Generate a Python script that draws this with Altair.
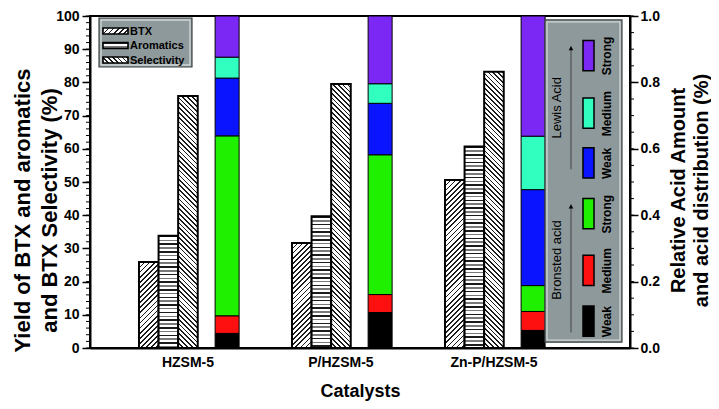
import math
import altair as alt
import pandas as pd

# ---------------- data ----------------
catalysts = ["HZSM-5", "P/HZSM-5", "Zn-P/HZSM-5"]
series = ["BTX", "Aromatics", "Selectivity"]
btx = [25.9, 31.6, 50.6]
aromatics = [33.8, 39.7, 60.7]
selectivity = [75.9, 79.5, 83.2]

acid_keys = ["Bronsted Weak", "Bronsted Medium", "Bronsted Strong",
             "Lewis Weak", "Lewis Medium", "Lewis Strong"]
acid_labels = ["Weak", "Medium", "Strong", "Weak", "Medium", "Strong"]
acid_groups = ["Bronsted acid", "Lewis Acid"]
acid_colors = ["#000000", "#ff1010", "#1ef000", "#0a14ff", "#30ffc0", "#7c28f5"]
acid_hzsm5 = [0.044, 0.053, 0.542, 0.174, 0.063, 0.124]
acid_phzsm5 = [0.107, 0.054, 0.421, 0.155, 0.059, 0.204]
acid_znphzsm5 = [0.053, 0.057, 0.078, 0.289, 0.161, 0.362]

left_title = ["Yield of BTX and aromatics", "and BTX Selectivity (%)"]
right_title = ["Relative Acid Amount", "and acid distribution (%)"]
x_title = "Catalysts"

# ---------------- tables ----------------
rows = []
for ci, c in enumerate(catalysts):
    for s, vals in zip(series, [btx, aromatics, selectivity]):
        rows.append({"catalyst": c, "slot": s, "value": vals[ci]})
df = pd.DataFrame(rows)

arows = []
for c, fr in zip(catalysts, [acid_hzsm5, acid_phzsm5, acid_znphzsm5]):
    for i, (k, f) in enumerate(zip(acid_keys, fr)):
        arows.append({"catalyst": c, "slot": "Acid", "acid": k, "frac": f, "idx": i})
adf = pd.DataFrame(arows)

# ---------------- layout / style ----------------
W, H = 540, 332
K = H / 340.0
FONT = "Liberation Sans"
slots = ["BTX", "Aromatics", "Selectivity", "_gap", "Acid"]
PAD_IN, PAD_OUT, ALIGN = 0.36, 0.4447, 0.36
step = W / (len(catalysts) - PAD_IN + 2 * PAD_OUT)
BAR_W = step * (1 - PAD_IN) / len(slots)
PX = H / 100.0

INK = "#1c1c1c"
GREY_INK = "#7a7a7a"
PAPER = "#ffffff"


def stripe_stops(n, frac, ink, paper, ink2=None):
    stops = []
    k = 0
    while k < n:
        a = k / n
        b = min((k + frac) / n, 1.0)
        c = min((k + 1) / n, 1.0)
        col = ink if (ink2 is None or k % 2 == 0) else ink2
        stops += [(a, col), (b, col), (b, paper), (c, paper)]
        k += 1
    return [{"offset": round(o, 4), "color": col} for o, col in stops]


def hatch(kind, w, h):
    if kind == "Aromatics":
        period = 3.8
        return {"gradient": "linear", "x1": 0, "y1": 0, "x2": 0, "y2": 1,
                "stops": stripe_stops(h / period, 0.4, INK, PAPER, GREY_INK)}
    period = 3.6 if kind == "BTX" else 3.4
    s = (w + h) / (w * w + h * h)
    n = (w + h) / math.sqrt(2) / period
    stops = stripe_stops(n, 0.34, INK, PAPER)
    if kind == "BTX":
        return {"gradient": "linear", "x1": 0, "y1": 0, "x2": s * w, "y2": s * h, "stops": stops}
    return {"gradient": "linear", "x1": 0, "y1": 1, "x2": s * w, "y2": 1 - s * h, "stops": stops}


XS = alt.Scale(domain=catalysts, paddingInner=PAD_IN, paddingOuter=PAD_OUT, align=ALIGN)
XOS = alt.Scale(domain=slots, paddingInner=0, paddingOuter=0)
XAX = alt.Axis(title=x_title, labelAngle=0, ticks=False, labelPadding=7, labelFontSize=14,
               titleFontSize=18, titleY=43, titleBaseline="middle")
YLS = alt.Scale(domain=[0, 100], nice=False, zero=True)
YLAX = alt.Axis(values=list(range(0, 101, 10)), tickSize=8, labelPadding=3, title=left_title,
                titleAngle=270, titleX=-68, titleY=194, titleAlign="center",
                titleBaseline="middle", titleFontSize=22, titleLineHeight=27, labelFlush=False)
YRS = alt.Scale(domain=[0, 1], nice=False, zero=True)
YRAX = alt.Axis(orient="right", values=[0, 0.2, 0.4, 0.6, 0.8, 1.0], format=".1f", tickSize=8,
                labelPadding=2, title=right_title, titleAngle=270, titleX=48, titleY=174,
                titleAlign="center", titleBaseline="middle", titleFontSize=20,
                titleLineHeight=23, labelFlush=False)

X = alt.X("catalyst:N", scale=XS, axis=XAX)
XO = alt.XOffset("slot:N", scale=XOS)

# ---------------- hatched bars (left axis) ----------------
left_layers = []
for _, r in df.iterrows():
    left_layers.append(
        alt.Chart(df)
        .transform_filter((alt.datum.catalyst == r["catalyst"]) & (alt.datum.slot == r["slot"]))
        .mark_bar(fill=hatch(r["slot"], BAR_W, r["value"] * PX), stroke="black", strokeWidth=2)
        .encode(x=X, xOffset=XO, y=alt.Y("value:Q", scale=YLS, axis=YLAX))
    )
left_layers.append(
    alt.Chart(alt.sequence(0, 101, 2, as_="t"))
    .mark_rule(color="black", strokeWidth=1)
    .encode(y=alt.Y("t:Q", scale=YLS, axis=YLAX), x=alt.value(-4), x2=alt.value(0))
)
inner_left = alt.layer(*left_layers)

# ---------------- stacked acid bars (right axis) ----------------
acid_bar = (
    alt.Chart(adf)
    .mark_bar(width=24, stroke="black", strokeWidth=1)
    .encode(
        x=X, xOffset=XO,
        y=alt.Y("frac:Q", stack="zero", scale=YRS, axis=YRAX),
        color=alt.Color("acid:N", scale=alt.Scale(domain=acid_keys, range=acid_colors), legend=None),
        order=alt.Order("idx:Q"),
    )
)
right_minor = (
    alt.Chart(alt.sequence(0, 1.001, 0.05, as_="t"))
    .mark_rule(color="black", strokeWidth=1)
    .encode(y=alt.Y("t:Q", scale=YRS, axis=YRAX), x=alt.value(W), x2=alt.value(W + 4))
)
inner_right = alt.layer(acid_bar, right_minor)

# ---------------- legends ----------------
one = pd.DataFrame({"a": [0]})
BOX = "#8e999b"
legend = []


def box(x0, x1, y0, y1):
    outer = alt.Chart(one).mark_rect(fill=BOX, stroke="#3c4445", strokeWidth=1.2).encode(
        x=alt.value(x0), x2=alt.value(x1), y=alt.value(y0), y2=alt.value(y1))
    inner = alt.Chart(one).mark_rect(fill=BOX, stroke="#d3d8d8", strokeWidth=1.3).encode(
        x=alt.value(x0 + 2), x2=alt.value(x1 - 2), y=alt.value(y0 + 2), y2=alt.value(y1 - 2))
    return [outer, inner]


# top-left legend
legend += box(9, 102, 2, 51)
for i, s in enumerate(series):
    y0 = 12 + i * 14.5
    legend.append(
        alt.Chart(one).mark_rect(fill=hatch(s, 25, 6), stroke="black", strokeWidth=1.6).encode(
            x=alt.value(13), x2=alt.value(38), y=alt.value(y0), y2=alt.value(y0 + 6)))
    legend.append(
        alt.Chart(pd.DataFrame({"label": [s]})).mark_text(
            align="left", baseline="middle", font=FONT, fontSize=11, fontWeight="bold", color="black"
        ).encode(x=alt.value(40), y=alt.value(y0 + 3.5), text="label:N"))

# right legend
legend += box(455, 532, 4 * K, 334 * K)
sw_top = [297, 245, 187, 135, 84, 25]
for i, (k, lab) in enumerate(zip(acid_keys, acid_labels)):
    y0 = sw_top[i] * K
    legend.append(
        alt.Chart(pd.DataFrame({"acid": [k]})).mark_rect(stroke="black", strokeWidth=1.5).encode(
            x=alt.value(493), x2=alt.value(504), y=alt.value(y0), y2=alt.value(y0 + 31 * K),
            color=alt.Color("acid:N", scale=alt.Scale(domain=acid_keys, range=acid_colors), legend=None)))
    legend.append(
        alt.Chart(pd.DataFrame({"label": [lab]})).mark_text(
            angle=270, align="center", baseline="middle", font=FONT, fontSize=12,
            fontWeight="bold", color="black"
        ).encode(x=alt.value(517), y=alt.value(y0 + 16 * K), text="label:N"))

for g, yc, (ya, yb) in zip(acid_groups, [250, 94], [(324, 193), (157, 31)]):
    legend.append(
        alt.Chart(pd.DataFrame({"label": [g]})).mark_text(
            angle=270, align="center", baseline="middle", font=FONT, fontSize=13, color="black"
        ).encode(x=alt.value(467), y=alt.value(yc * K), text="label:N"))
    legend.append(
        alt.Chart(one).mark_rule(color="#444444", strokeWidth=1).encode(
            x=alt.value(481), y=alt.value(ya * K), y2=alt.value(yb * K)))
    legend.append(
        alt.Chart(one).mark_point(shape="triangle-up", filled=True, color="black", size=22, opacity=1).encode(
            x=alt.value(481), y=alt.value(yb * K + 2)))

chart = (
    alt.layer(inner_left, inner_right, *legend)
    .resolve_scale(y="independent", color="independent")
    .properties(width=W, height=H, padding={"left": 82, "top": 8, "right": 81, "bottom": 53},
                autosize=alt.AutoSizeParams(type="none"))
    .configure_view(stroke="black", strokeWidth=2)
    .configure_axis(labelFont=FONT, titleFont=FONT, labelFontWeight="bold", titleFontWeight="bold",
                    labelColor="black", titleColor="black", domainColor="black", domainWidth=2,
                    tickColor="black", tickWidth=1.5, grid=False, labelFontSize=14)
)

chart.save("out.html", embed_options={"renderer": "svg", "actions": False})
